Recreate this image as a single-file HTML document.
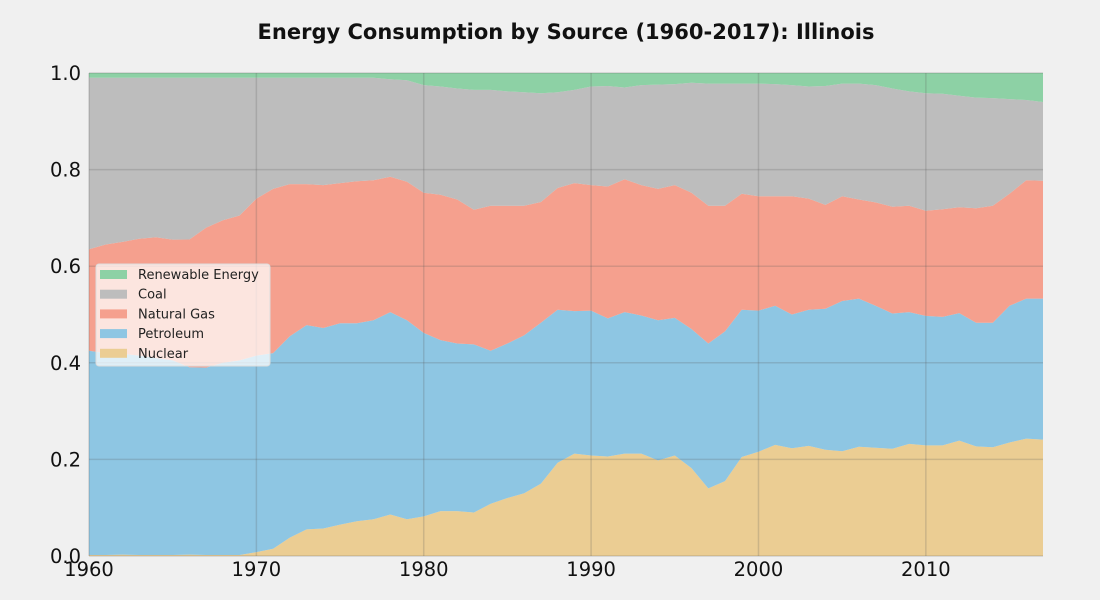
<!DOCTYPE html>
<html><head><meta charset="utf-8"><style>
body{margin:0;background:#f0f0f0;}
svg{display:block;font-family:"DejaVu Sans","Liberation Sans",sans-serif;}
</style></head><body>
<svg id="chart" width="1100" height="600" viewBox="0 0 1100 600">
<rect width="1100" height="600" fill="#f0f0f0"/>
<text x="566" y="39" text-anchor="middle" font-size="21" font-weight="bold" fill="#111">Energy Consumption by Source (1960-2017): Illinois</text>
<g id="areas"></g>
<g id="grid"></g>
<g id="xticks"></g>
<g id="yticks"></g>
<g id="legend"></g>
</svg>
<script>
const years=[];for(let y=1960;y<=2017;y++)years.push(y);
const nuclear=[.002,.002,.003,.002,.002,.002,.003,.002,.002,.002,.008,.015,.038,.055,.057,.065,.072,.076,.086,.076,.082,.093,.093,.090,.108,.120,.130,.150,.193,.212,.208,.206,.212,.212,.198,.208,.182,.140,.155,.205,.216,.230,.223,.228,.220,.217,.226,.224,.222,.232,.229,.229,.239,.227,.225,.235,.243,.241];
const petroleum=[.423,.418,.416,.413,.408,.403,.388,.388,.398,.403,.407,.405,.417,.423,.415,.417,.410,.412,.419,.412,.380,.354,.347,.348,.317,.320,.327,.333,.317,.295,.300,.286,.293,.286,.290,.285,.288,.300,.310,.305,.292,.288,.277,.282,.292,.311,.307,.294,.280,.273,.268,.266,.264,.256,.258,.283,.290,.292];
const naturalGas=[.210,.225,.232,.242,.250,.250,.265,.290,.295,.300,.325,.340,.315,.292,.296,.290,.294,.290,.280,.287,.290,.301,.298,.279,.300,.285,.268,.250,.252,.265,.260,.273,.275,.270,.272,.275,.282,.285,.260,.240,.237,.227,.245,.230,.215,.217,.205,.214,.221,.220,.218,.223,.219,.237,.242,.232,.245,.244];
const coal=[.355,.345,.340,.333,.330,.335,.335,.310,.295,.285,.250,.230,.220,.220,.222,.218,.214,.212,.202,.210,.223,.224,.230,.248,.240,.237,.235,.225,.198,.193,.204,.208,.190,.207,.216,.209,.228,.253,.253,.228,.233,.232,.230,.232,.246,.233,.240,.243,.245,.237,.243,.239,.231,.229,.223,.196,.166,.163];
const renewable=[.010,.010,.010,.010,.010,.010,.010,.010,.010,.010,.010,.010,.010,.010,.010,.010,.010,.010,.013,.015,.025,.028,.032,.035,.035,.038,.040,.042,.040,.035,.028,.027,.030,.025,.024,.023,.020,.022,.022,.022,.022,.023,.025,.028,.027,.022,.022,.025,.032,.038,.042,.043,.047,.051,.052,.054,.056,.060];
const xTicks=[1960,1970,1980,1990,2000,2010];
const yTicks=[0,0.2,0.4,0.6,0.8,1.0];
const seriesNames=["Nuclear","Petroleum","Natural Gas","Coal","Renewable Energy"];
const series=[nuclear,petroleum,naturalGas,coal,renewable];
const colors=["#ebcd93","#8ec6e3","#f5a08e","#bdbdbd","#8dd1a5"];
const X0=89,X1=1043,Y0=556,Y1=73;
const xs=v=>X0+(v-1960)/(2017-1960)*(X1-X0);
const ys=v=>Y0-v*(Y0-Y1);
const NS="http://www.w3.org/2000/svg";
const mk=(t,a)=>{const e=document.createElementNS(NS,t);for(const k in a)e.setAttribute(k,a[k]);return e;};
const totals=years.map((_,i)=>series.reduce((s,a)=>s+a[i],0));
let base=years.map(()=>0);
const areas=document.getElementById('areas');
series.forEach((arr,si)=>{
  const top=base.map((b,i)=>b+arr[i]/totals[i]);
  let d="M"+years.map((y,i)=>xs(y).toFixed(1)+","+ys(top[i]).toFixed(1)).join("L");
  for(let i=years.length-1;i>=0;i--)d+="L"+xs(years[i]).toFixed(1)+","+ys(base[i]).toFixed(1);
  const p=mk('path',{d:d+"Z",fill:colors[si]});
  
  
  areas.appendChild(p);base=top;
});
const grid=document.getElementById('grid');
xTicks.forEach(t=>{const l=mk('line',{x1:xs(t),x2:xs(t),y1:Y1,y2:Y0,stroke:"rgba(90,90,90,0.22)","stroke-width":1.5});
grid.appendChild(l);});
yTicks.forEach(t=>{const l=mk('line',{x1:X0,x2:X1,y1:ys(t),y2:ys(t),stroke:"rgba(90,90,90,0.22)","stroke-width":1.5});
grid.appendChild(l);});
const xt=document.getElementById('xticks');
xTicks.forEach(t=>{const e=mk('text',{x:xs(t),y:576,"text-anchor":"middle","font-size":19.5,fill:"#111"});e.textContent=t;
xt.appendChild(e);});
const yt=document.getElementById('yticks');
yTicks.forEach(t=>{const e=mk('text',{x:81,y:ys(t)+7,"text-anchor":"end","font-size":19.5,fill:"#111"});e.textContent=t.toFixed(1);
yt.appendChild(e);});
const lg=document.getElementById('legend');
const box=mk('rect',{x:96,y:264,width:174,height:102,rx:3,fill:"rgba(255,255,255,0.72)",stroke:"#ddd"});
lg.appendChild(box);
[4,3,2,1,0].forEach((si,k)=>{
  const y=270+k*19.7;
  const r=mk('rect',{x:100,y:y,width:27,height:9,fill:colors[si]});
  lg.appendChild(r);
  const t=mk('text',{x:138,y:y+9,"font-size":13,fill:"#222"});t.textContent=seriesNames[si];
  lg.appendChild(t);
});
</script>
</body></html>
